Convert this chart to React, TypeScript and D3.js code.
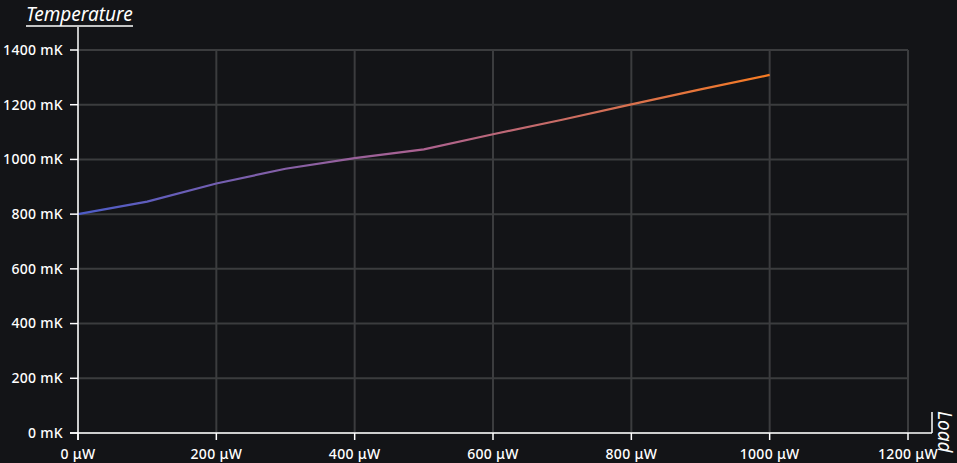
import * as d3 from 'd3'

const loads = [0, 100, 200, 300, 400, 500, 600, 700, 800, 900, 1000]
const temps = [800, 846, 912, 966, 1005, 1037, 1092, 1145, 1201, 1256, 1309]
const xTicks = [0, 200, 400, 600, 800, 1000, 1200]
const yTicks = [0, 200, 400, 600, 800, 1000, 1200, 1400]

const W = 957
const H = 463
const margin = { top: 50, right: 49, bottom: 30, left: 78 }
const font = '"Noto Sans", "DejaVu Sans", sans-serif'

const App = () => {
  const x = d3.scaleLinear().domain([0, 1200]).range([margin.left, W - margin.right])
  const y = d3.scaleLinear().domain([0, 1400]).range([H - margin.bottom, margin.top])

  const line = d3.line<number>()
    .x((d, i) => x(loads[i]))
    .y(d => y(d))

  const x0 = x(0)
  const y0 = y(0)

  return (
    <svg width={W} height={H} style={{ position: 'absolute', left: 0, top: 0 }}>
      <defs>
        <linearGradient id="grad" gradientUnits="userSpaceOnUse"
          x1={x(0)} x2={x(1000)} y1={0} y2={0}>
          <stop offset="0%" stopColor="#4c5cc8" />
          <stop offset="50%" stopColor="#ac6290" />
          <stop offset="100%" stopColor="#f77b22" />
        </linearGradient>
      </defs>
      <rect width={W} height={H} fill="#131417" />

      {/* grid */}
      {yTicks.map(t => (
        <line key={'gy' + t} x1={x0} x2={x(1200)} y1={y(t)} y2={y(t)} stroke="#3b3c3e" strokeWidth={2} />
      ))}
      {xTicks.map(t => (
        <line key={'gx' + t} x1={x(t)} x2={x(t)} y1={y(1400)} y2={y0} stroke="#3b3c3e" strokeWidth={2} />
      ))}

      <path d={line(temps) || ''} fill="none" stroke="url(#grad)" strokeWidth={2.2} />

      {/* axes */}
      <line x1={x0} x2={x0} y1={27} y2={y0 + 7} stroke="#fff" strokeWidth={1.5} />
      <line x1={x0 - 8} x2={932} y1={y0} y2={y0} stroke="#fff" strokeWidth={1.5} />

      {yTicks.map(t => (
        <g key={'ty' + t}>
          <line x1={x0 - 8} x2={x0} y1={y(t)} y2={y(t)} stroke="#fff" strokeWidth={1.5} />
          <text x={x0 - 15} y={y(t)} dy="0.35em" textAnchor="end" fill="#fff"
            fontFamily={font} fontSize={14} fontWeight={500} letterSpacing={0.3}>{t} mK</text>
        </g>
      ))}
      {xTicks.map(t => (
        <g key={'tx' + t}>
          <line x1={x(t)} x2={x(t)} y1={y0} y2={y0 + 7} stroke="#fff" strokeWidth={1.5} />
          <text x={x(t)} y={y0 + 26} textAnchor="middle" fill="#fff"
            fontFamily={font} fontSize={14} fontWeight={500} letterSpacing={0.3}>{t} μW</text>
        </g>
      ))}

      {/* axis titles */}
      <text x={26} y={21} fill="#fff" fontFamily={font} fontSize={19} fontStyle="italic">Temperature</text>
      <line x1={26} x2={133} y1={26} y2={26} stroke="#fff" strokeWidth={1.5} />

      <text transform="translate(937,411) rotate(90)" fill="#fff" fontFamily={font}
        fontSize={19} fontStyle="italic" y={-1}>Load</text>
      <line x1={932} x2={932} y1={412} y2={y0} stroke="#fff" strokeWidth={1.5} />
    </svg>
  )
}

export default App
